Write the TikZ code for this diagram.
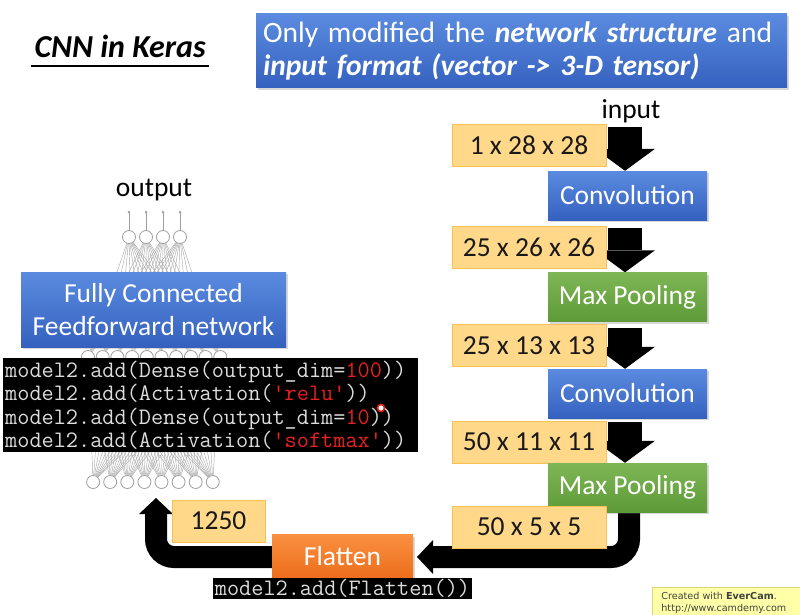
\documentclass[tikz,border=0pt]{standalone}
\usepackage{fontspec}
\setmainfont{Carlito}
\newfontfamily\wmfont{DejaVu Sans}
\usetikzlibrary{arrows.meta,shadows,calc,backgrounds}
\definecolor{blueTop}{HTML}{5B8BE0}
\definecolor{blueBot}{HTML}{3461BE}
\definecolor{grnTop}{HTML}{7EB655}
\definecolor{grnBot}{HTML}{5E9A38}
\definecolor{orgTop}{HTML}{FA9040}
\definecolor{orgBot}{HTML}{EC6E1C}
\definecolor{dimfill}{HTML}{FFD88A}
\definecolor{dimdraw}{HTML}{F9C053}
\definecolor{codered}{HTML}{E8201E}
\definecolor{codegray}{HTML}{DCDCDC}
\definecolor{wmfill}{HTML}{FFFFA8}
\definecolor{wmdraw}{HTML}{E2D27A}
\tikzset{
  lbl/.style={font=\fontsize{27.5}{32}\selectfont},
  shadowed/.style={drop shadow={opacity=0.3,shadow xshift=2pt,shadow yshift=-2pt}},
  bluebox/.style={top color=blueTop,bottom color=blueBot,text=white,lbl,inner sep=0pt,shadowed},
  greenbox/.style={top color=grnTop,bottom color=grnBot,text=white,lbl,inner sep=0pt,shadowed},
  orangebox/.style={top color=orgTop,bottom color=orgBot,text=white,lbl,inner sep=0pt,shadowed},
  dimbox/.style={fill=dimfill,draw=dimdraw,line width=1pt,text=black!90,lbl,inner sep=0pt,minimum width=154pt,minimum height=42pt},
  opbox/.style={minimum width=159pt,minimum height=49pt},
  neuron/.style={circle,draw=gray!75,fill=white,line width=0.8pt,minimum size=13pt,inner sep=0pt},
  netline/.style={draw=gray!65,line width=0.45pt},
  blockdown/.style={line width=34pt,-{Triangle[length=22pt,width=60pt,line width=0pt]}},
  blockbend/.style={line width=22pt,rounded corners=18pt,-{Triangle[length=16pt,width=34pt,line width=0pt]}},
  codebox/.style={fill=black,text=codegray,font=\ttfamily\fontsize{23.6}{23.5}\selectfont},
}
\newcommand{\rd}[1]{\textcolor{codered}{#1}}
\newcommand{\q}{\textquotesingle}
\begin{document}
\begin{tikzpicture}[x=1pt,y=-1pt]
\begin{pgfonlayer}{background}
\fill[white] (0,0) rectangle (800,615);
\end{pgfonlayer}
\useasboundingbox (0,0) rectangle (800,615);

% title
\node[font=\fontsize{32}{36}\selectfont\bfseries\itshape, anchor=base west] (title) at (31,58) {CNN in Keras};
\draw[line width=2pt] (title.base west |- 0,66) coordinate (ul1) -- (title.base east |- 0,66) coordinate (ul2);

% top note
\node[bluebox, minimum width=531pt, minimum height=74pt, text width=517pt, align=left,
      font=\fontsize{29.5}{33}\selectfont] (note) at (521.5,51)
  {Only modified the \textbf{\textit{network structure}} and\\ \textbf{\textit{input format (vector -> 3-D tensor)}}};

% pipeline
\node[lbl] (input) at (631,111) {input};
\node[dimbox] (d1) at (529,145.5) {1 x 28 x 28};
\node[bluebox,opbox] (conv1) at (627.5,195.5) {Convolution};
\node[dimbox] (d2) at (529,247.5) {25 x 26 x 26};
\node[greenbox,opbox] (pool1) at (627.5,297) {Max Pooling};
\node[dimbox] (d3) at (529,345.5) {25 x 13 x 13};
\node[bluebox,opbox] (conv2) at (627.5,393.5) {Convolution};
\node[dimbox] (d4) at (529,442) {50 x 11 x 11};
\node[greenbox,opbox] (pool2) at (627.5,487.5) {Max Pooling};
\node[dimbox] (d5) at (529,527) {50 x 5 x 5};
\node[orangebox,minimum width=141pt,minimum height=43pt] (flatten) at (342.5,556) {Flatten};
\node[codebox,inner xsep=2pt,inner ysep=1pt] (fcode) at (342.5,588.5) {model2.add(Flatten())};
\node[dimbox,minimum width=93pt] (d6) at (218.5,521) {1250};

% arrow anchor points
\coordinate (a1) at (625,127);
\coordinate (a2) at (625,228);
\coordinate (a3) at (625,328);
\coordinate (a4) at (625,422);
\coordinate (u1) at (629,511);
\coordinate (ut) at (417,557);
\coordinate (lt) at (156,498);

% network
\node[lbl] (output) at (154,190) {output};
\foreach \i in {1,...,4} \node[neuron] (o\i) at ({112+17*\i},237) {};
\foreach \i in {1,...,10} \node[neuron] (h\i) at ({73.3+14.7*\i},357) {};
\foreach \i in {1,...,8} \node[neuron] (b\i) at ({76+17.1*\i},482) {};
\foreach \i in {1,...,4} \coordinate (oo\i) at ({112+17*\i},210);

\begin{pgfonlayer}{background}
  \foreach \i in {1,...,4}{
    \foreach \j in {1,...,10} \draw[netline] (o\i) -- (h\j);
    \draw[draw=gray!75,line width=0.6pt,-{Latex[length=3pt,width=3pt]}] (o\i) -- (oo\i);
  }
  \foreach \i in {1,...,8}{
    \foreach \j in {1,...,10} \draw[netline] (b\i) -- (h\j);
  }
  \draw[blockdown] (a1) -- (a1 |- conv1.north);
  \draw[blockdown] (a2) -- (a2 |- pool1.north);
  \draw[blockdown] (a3) -- (a3 |- conv2.north);
  \draw[blockdown] (a4) -- (a4 |- pool2.north);
  \draw[blockbend] (u1) |- (ut);
  \draw[blockbend] (flatten.west |- ut) -| (lt);
\end{pgfonlayer}

\node[bluebox,minimum width=265pt,minimum height=75pt,align=center,
      font=\fontsize{27.5}{33}\selectfont] (fc) at (153.5,309.5) {Fully Connected\\Feedforward network};

\node[codebox,anchor=north west,inner xsep=2pt,inner ysep=0pt,minimum width=415pt,minimum height=94pt,align=left,text width=411pt] (code) at (3,358)
 {model2.add(Dense(output\_dim=\rd{100}))\\
  model2.add(Activation(\rd{\q relu\q}))\\
  model2.add(Dense(output\_dim=\rd{10}))\\
  model2.add(Activation(\rd{\q softmax\q}))};

\node[circle,draw=codered,fill=white,line width=1.6pt,minimum size=7pt,inner sep=0pt] (cursor) at (381,408) {};

% watermark
\node[fill=wmfill,draw=wmdraw,line width=0.8pt,anchor=north west,minimum height=30pt,
      align=left,text width=134pt,inner xsep=9pt,font=\wmfont\fontsize{9.6}{12}\selectfont,text=black!75] (wm) at (652,587)
  {Created with \textbf{EverCam}.\\http://www.camdemy.com};
\end{tikzpicture}
\end{document}
